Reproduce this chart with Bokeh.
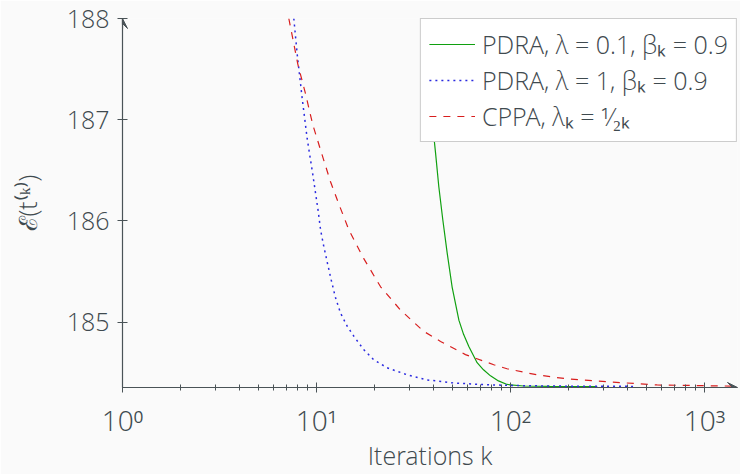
from bokeh.plotting import figure
from bokeh.models import FixedTicker, Arrow, VeeHead, Legend, LegendItem
from bokeh.embed import file_html
from bokeh.resources import INLINE

# ---- data ----
green_k = [35.6, 39.5, 41.1, 42.7, 44.8, 47.2, 50.0, 54.2, 57.3, 61.0, 67.3, 72.6, 78.9, 86.7, 96.1,
           116.7, 160, 220, 280]
green_v = [188.0, 186.99, 186.67, 186.34, 186.01, 185.68, 185.35, 185.02, 184.88, 184.76, 184.60, 184.53,
           184.47, 184.42, 184.385, 184.37, 184.366, 184.365, 184.365]

blue_k = [7.64, 7.95, 8.44, 8.96, 9.57, 10.2, 10.5, 10.9, 11.4, 11.9, 12.5, 13.3, 14.4, 15.6, 17.5, 19.7,
          23.1, 29.4, 37.2, 51, 70, 100, 150, 250, 430]
blue_v = [188.0, 187.65, 187.21, 186.81, 186.46, 186.1, 185.91, 185.75, 185.58, 185.42, 185.25, 185.09,
          184.96, 184.86, 184.73, 184.63, 184.55, 184.48, 184.43, 184.40, 184.385, 184.375, 184.37,
          184.367, 184.366]

red_k = [7.2, 8.01, 8.77, 9.57, 10.7, 11.8, 12.9, 14.7, 17.5, 21.4, 27.1, 35.7, 43.6, 50, 58.6, 82, 96,
         137, 196, 274, 392, 570, 847, 1253, 1500]
red_v = [188.0, 187.55, 187.26, 186.95, 186.65, 186.39, 186.19, 185.91, 185.63, 185.35, 185.12, 184.91,
         184.81, 184.75, 184.68, 184.58, 184.54, 184.48, 184.44, 184.42, 184.40, 184.38, 184.375, 184.37,
         184.368]

x_major = [1, 10, 100, 1000]
x_labels = {1: "10⁰", 10: "10¹", 100: "10²", 1000: "10³"}
y_major = [185, 186, 187, 188]

labels = ["PDRA, λ = 0.1, βₖ = 0.9", "PDRA, λ = 1, βₖ = 0.9", "CPPA, λₖ = ¹⁄₂ₖ"]

BG = "#fafafa"
TXT = "#3f4a4f"
AX = "#4a5357"
FONT = "Open Sans Light"

X0, X1 = 1, 1480
Y0, Y1 = 184.355, 188.0

p = figure(width=740, height=474, x_axis_type="log", x_range=(X0, X1), y_range=(Y0, Y1),
           output_backend="svg", toolbar_location=None,
           min_border_left=122, min_border_right=3, min_border_top=18, min_border_bottom=86,
           background_fill_color=BG, border_fill_color=BG, outline_line_color=None)
p.grid.visible = False

minor = [m * d for d in [1, 10, 100, 1000] for m in range(2, 10)]
p.xaxis.ticker = FixedTicker(ticks=x_major, minor_ticks=minor)
p.xaxis.major_label_overrides = x_labels
p.yaxis.ticker = FixedTicker(ticks=y_major)

for ax in (p.xaxis, p.yaxis):
    ax.axis_line_color = AX
    ax.axis_line_width = 1.2
    ax.major_tick_line_color = AX
    ax.minor_tick_line_color = AX
    ax.major_tick_in = 5
    ax.major_tick_out = 5
    ax.minor_tick_in = 3
    ax.minor_tick_out = 3
    ax.major_label_text_font = FONT
    ax.major_label_text_font_size = "25px"
    ax.major_label_text_color = TXT
    ax.axis_label_text_font = FONT
    ax.axis_label_text_font_size = "25px"
    ax.axis_label_text_color = TXT
    ax.axis_label_text_font_style = "normal"
p.xaxis.major_label_text_font_size = "28px"
p.yaxis.minor_tick_line_color = None
p.xaxis.major_label_standoff = 8
p.yaxis.major_label_standoff = 8
p.xaxis.axis_label = "Iterations k"
p.yaxis.axis_label = "ℰ(t⁽ᵏ⁾)"
p.xaxis.axis_label_standoff = -4
p.yaxis.axis_label_standoff = 20

rg = p.line(green_k, green_v, line_color="#10a010", line_width=1.2)
rb = p.line(blue_k, blue_v, line_color="#2a2ae0", line_width=1.5, line_dash="2 4")
rr = p.line(red_k, red_v, line_color="#d81e1e", line_width=1.2, line_dash="7 7")

p.add_layout(Arrow(end=VeeHead(size=10, line_color=AX, fill_color=AX), line_color=AX, line_width=1.2,
                   x_start=1300, x_end=X1, y_start=Y0, y_end=Y0))
p.add_layout(Arrow(end=VeeHead(size=10, line_color=AX, fill_color=AX), line_color=AX, line_width=1.2,
                   x_start=X0, x_end=X0, y_start=187.9, y_end=Y1))

legend = Legend(items=[LegendItem(label=labels[0], renderers=[rg]),
                       LegendItem(label=labels[1], renderers=[rb]),
                       LegendItem(label=labels[2], renderers=[rr])],
                location="top_right", margin=0, padding=8, spacing=2,
                label_text_font=FONT, label_text_font_size="25px", label_text_color=TXT,
                glyph_width=46, glyph_height=32, label_height=32, label_standoff=7,
                border_line_color="#9a9a9a", border_line_width=1.5,
                background_fill_color="white", background_fill_alpha=1.0)
p.add_layout(legend)

open("out.html", "w").write(file_html(p, INLINE))
